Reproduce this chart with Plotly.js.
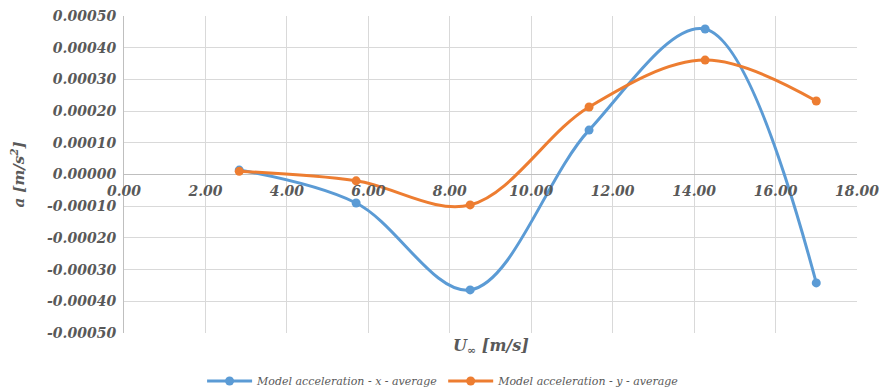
<!DOCTYPE html>
<html>
<head>
<meta charset="utf-8">
<script src="https://cdn.plot.ly/plotly-3.0.1.min.js"></script>
<style>html,body{margin:0;padding:0;background:#fff;}#chart{width:882px;height:389px;}</style>
</head>
<body>
<div id="chart"></div>
<script>
const speedX = [2.83, 5.70, 8.50, 11.42, 14.27, 17.00];
const accelX = [0.000014, -0.000090, -0.000364, 0.000140, 0.000459, -0.000342];
const speedY = [2.83, 5.70, 8.50, 11.42, 14.27, 17.00];
const accelY = [0.000010, -0.000020, -0.000096, 0.000213, 0.000361, 0.000232];
const seriesNames = ["Model acceleration - x - average", "Model acceleration - y - average"];
const xTickVals = [0, 2, 4, 6, 8, 10, 12, 14, 16, 18];
const yTickVals = [-0.0005, -0.0004, -0.0003, -0.0002, -0.0001, 0, 0.0001, 0.0002, 0.0003, 0.0004, 0.0005];

const tickFont = {family: "DejaVu Serif", size: 14, color: "#595959", weight: "bold", style: "italic"};

const traces = [
  {x: speedX, y: accelX, name: seriesNames[0], type: "scatter", mode: "lines+markers",
   line: {color: "#5b9bd5", width: 3, shape: "spline", smoothing: 1},
   marker: {color: "#5b9bd5", size: 9}},
  {x: speedY, y: accelY, name: seriesNames[1], type: "scatter", mode: "lines+markers",
   line: {color: "#ed7d31", width: 3, shape: "spline", smoothing: 1},
   marker: {color: "#ed7d31", size: 9}}
];

const layout = {
  width: 882, height: 389,
  margin: {l: 124, r: 25, t: 16, b: 56, autoexpand: false},
  paper_bgcolor: "#fff", plot_bgcolor: "#fff",
  showlegend: true,
  legend: {orientation: "h", x: 0.436, xanchor: "center", y: (333 - 381) / 317, yanchor: "middle",
           font: {family: "DejaVu Serif", size: 11, color: "#595959", style: "italic"},
           itemwidth: 45, tracegroupgap: 0},
  xaxis: {range: [0, 18], tickvals: xTickVals, ticktext: xTickVals.map(v => v.toFixed(2)),
          anchor: "free", position: 0.5, showgrid: true, gridcolor: "#d9d9d9", gridwidth: 1,
          zeroline: false, showline: false, ticks: "", tickfont: tickFont, ticklabelstandoff: 6,
          fixedrange: true, automargin: false},
  yaxis: {range: [-0.0005, 0.0005], tickvals: yTickVals, ticktext: yTickVals.map(v => v.toFixed(5)),
          showgrid: true, gridcolor: "#d9d9d9", gridwidth: 1, zeroline: true, zerolinecolor: "#bfbfbf",
          zerolinewidth: 1, showline: true, linecolor: "#bfbfbf", linewidth: 1, ticks: "",
          tickfont: tickFont, ticklabelstandoff: 4, automargin: false,
          title: {text: "a [m/s<sup>2</sup>]", standoff: 18,
                  font: {family: "DejaVu Serif", size: 15, color: "#595959", weight: "bold", style: "italic"}}},
  annotations: [
    {text: "U<sub>∞</sub> [m/s]", xref: "paper", yref: "paper", x: 0.5, y: (333 - 346) / 317,
     xanchor: "center", yanchor: "middle", showarrow: false,
     font: {family: "DejaVu Serif", size: 16, color: "#595959", weight: "bold", style: "italic"}}
  ]
};

Plotly.newPlot("chart", traces, layout, {staticPlot: true, displayModeBar: false});
</script>
</body>
</html>
